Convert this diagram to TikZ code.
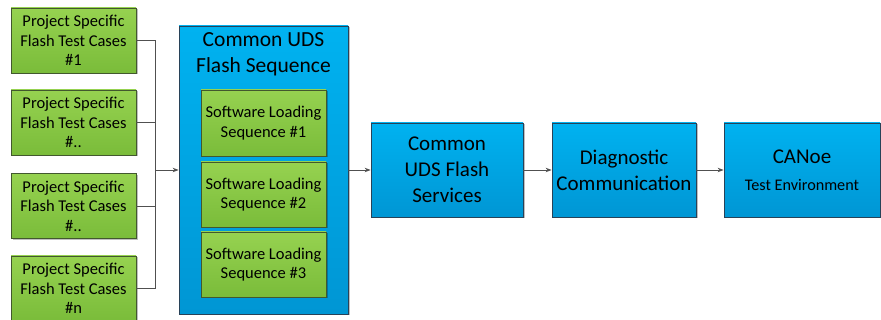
\documentclass[tikz,border=0pt]{standalone}
\usepackage{fontspec}
\setmainfont{Carlito}
\usetikzlibrary{arrows.meta,shadows}
\definecolor{bluetop}{RGB}{0,178,240}
\definecolor{bluebot}{RGB}{0,150,212}
\definecolor{blueline}{RGB}{40,66,88}
\definecolor{greentop}{RGB}{150,210,80}
\definecolor{greenbot}{RGB}{122,188,58}
\definecolor{greenline}{RGB}{66,88,46}
\definecolor{wire}{RGB}{80,80,80}
\tikzset{
  boxshadow/.style={drop shadow={shadow xshift=1.5pt,shadow yshift=-1.5pt,opacity=0.25,fill=black}},
  greenbox/.style={draw=greenline,line width=0.8pt,top color=greentop,bottom color=greenbot,
    boxshadow,align=center,inner sep=0pt,
    font=\fontsize{16.5}{19.5}\selectfont},
  bluebox/.style={draw=blueline,line width=0.8pt,top color=bluetop,bottom color=bluebot,
    boxshadow,align=center,inner sep=0pt},
  wireline/.style={draw=wire,line width=0.9pt},
  flow/.style={wireline,-{Stealth[length=6pt,width=4.5pt]}},
}
\begin{document}
\begin{tikzpicture}[x=1pt,y=-1pt]
\useasboundingbox (0,0) rectangle (881,320);

% project-specific test case inputs
\node[greenbox,minimum width=125pt,minimum height=65pt] (g1) at (73.5,40.5)
  {Project Specific\\Flash Test Cases\\\#1};
\node[greenbox,minimum width=125pt,minimum height=65pt] (g2) at (73.5,122.5)
  {Project Specific\\Flash Test Cases\\\#..};
\node[greenbox,minimum width=125pt,minimum height=65pt] (g3) at (73.5,206)
  {Project Specific\\Flash Test Cases\\\#..};
\node[greenbox,minimum width=125pt,minimum height=65pt] (g4) at (73.5,288.5)
  {Project Specific\\Flash Test Cases\\\#n};

% common flash sequence container
\node[bluebox,minimum width=169pt,minimum height=288pt] (seq) at (263.5,170) {};
\node[align=center,inner sep=0pt,font=\fontsize{21.5}{26}\selectfont] (seqtitle) at (263.5,54)
  {Common UDS\\Flash Sequence};
\node[greenbox,minimum width=125pt,minimum height=66pt] (s1) at (263.5,123)
  {Software Loading\\Sequence \#1};
\node[greenbox,minimum width=125pt,minimum height=65pt] (s2) at (263.5,194.5)
  {Software Loading\\Sequence \#2};
\node[greenbox,minimum width=125pt,minimum height=65pt] (s3) at (263.5,264.5)
  {Software Loading\\Sequence \#3};

% service chain
\node[bluebox,minimum width=152pt,minimum height=94pt,font=\fontsize{21}{26}\selectfont] (svc) at (447,170)
  {Common\\UDS Flash\\Services};
\node[bluebox,minimum width=144pt,minimum height=94pt,font=\fontsize{21}{26}\selectfont] (diag) at (624,170)
  {Diagnostic\\Communication};
\node[bluebox,minimum width=156pt,minimum height=94pt,font=\fontsize{21}{27}\selectfont] (canoe) at (802,170)
  {CANoe\\{\fontsize{16.2}{19}\selectfont Test Environment}};

% collecting bus
\coordinate (bus) at (155,170);
\foreach \g in {g1,g2,g3,g4}
  \draw[wireline] (\g.east) -| (bus);
\draw[flow] (bus) -- (seq.west);
\draw[flow] (seq.east) -- (svc.west);
\draw[flow] (svc.east) -- (diag.west);
\draw[flow] (diag.east) -- (canoe.west);
\end{tikzpicture}
\end{document}
